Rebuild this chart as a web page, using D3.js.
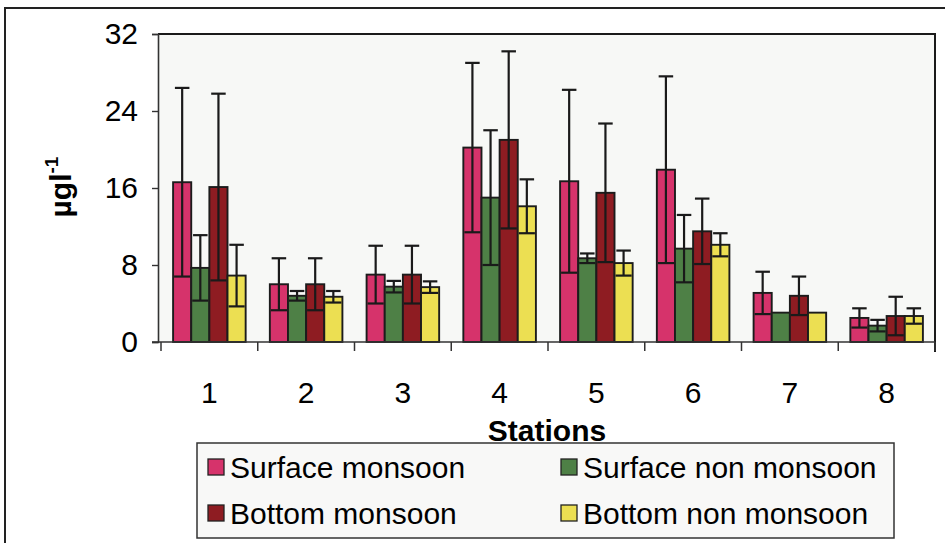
<!DOCTYPE html>
<html>
<head>
<meta charset="utf-8">
<script src="https://cdn.jsdelivr.net/npm/d3@7/dist/d3.min.js"></script>
<style>
  html, body { margin: 0; padding: 0; background: #ffffff; }
  svg { display: block; font-family: "Liberation Sans", Arial, Helvetica, sans-serif; }
</style>
</head>
<body>
<svg id="chart" width="945" height="543"></svg>
<script>
// Stations along the x axis
const stations = ["1", "2", "3", "4", "5", "6", "7", "8"];

// Series names (legend order, bar order within a station)
const seriesNames = ["Surface monsoon", "Surface non monsoon", "Bottom monsoon", "Bottom non monsoon"];

// Mean concentration (µg/l) per station
const surfaceMonsoon    = [16.6, 6.0, 7.0, 20.2, 16.7, 17.9, 5.1, 2.5];
const surfaceNonMonsoon = [7.7, 4.8, 5.75, 15.0, 8.7, 9.7, 3.05, 1.7];
const bottomMonsoon     = [16.1, 6.0, 7.0, 21.0, 15.5, 11.5, 4.8, 2.7];
const bottomNonMonsoon  = [6.9, 4.7, 5.7, 14.1, 8.2, 10.1, 3.05, 2.7];

// Standard deviation per station
const surfaceMonsoonSD    = [9.8, 2.7, 3.0, 8.8, 9.5, 9.7, 2.2, 1.0];
const surfaceNonMonsoonSD = [3.4, 0.5, 0.6, 7.0, 0.5, 3.5, 0, 0.6];
const bottomMonsoonSD     = [9.7, 2.7, 3.0, 9.2, 7.2, 3.4, 2.0, 2.0];
const bottomNonMonsoonSD  = [3.2, 0.6, 0.6, 2.8, 1.3, 1.2, 0, 0.8];

// Y axis ticks
const yTicks = [0, 8, 16, 24, 32];

const seriesValues = [surfaceMonsoon, surfaceNonMonsoon, bottomMonsoon, bottomNonMonsoon];
const seriesSD = [surfaceMonsoonSD, surfaceNonMonsoonSD, bottomMonsoonSD, bottomNonMonsoonSD];
const colors = ["#d6336b", "#4e8046", "#8e1c22", "#ecdf52"];

const svg = d3.select("#chart");

// Outer frame
svg.append("rect")
  .attr("x", 5).attr("y", 8).attr("width", 960).attr("height", 560)
  .attr("fill", "none").attr("stroke", "#222").attr("stroke-width", 2);

const plot = { left: 161, right: 935, top: 34, bottom: 342 };
const axisX = 158;

const x = d3.scaleBand().domain(stations)
  .range([plot.left, plot.right]).paddingInner(0.25).paddingOuter(0.125);
const xSub = d3.scaleBand().domain(seriesNames).range([0, x.bandwidth()]);
const y = d3.scaleLinear().domain([0, 32]).range([plot.bottom, plot.top]);

// Plot background
svg.append("rect")
  .attr("x", axisX).attr("y", plot.top)
  .attr("width", plot.right - axisX).attr("height", plot.bottom - plot.top)
  .attr("fill", "#f7f8f6");

// Bars
const groups = svg.append("g").selectAll("g")
  .data(stations).join("g")
  .attr("transform", d => `translate(${x(d)},0)`);

const rows = stations.map((s, i) => seriesNames.map((n, k) => ({
  station: s, series: n, k: k, value: seriesValues[k][i], sd: seriesSD[k][i]
})));

groups.selectAll("rect")
  .data((d, i) => rows[i]).join("rect")
  .attr("x", d => xSub(d.series))
  .attr("y", d => y(d.value))
  .attr("width", xSub.bandwidth())
  .attr("height", d => y(0) - y(d.value))
  .attr("fill", d => colors[d.k])
  .attr("stroke", "#1c1c1c").attr("stroke-width", 1.9);

// Error bars
const err = groups.selectAll("g.err")
  .data((d, i) => rows[i].filter(r => r.sd > 0)).join("g")
  .attr("class", "err")
  .attr("stroke", "#1a1a1a").attr("stroke-width", 2.2).attr("fill", "none");

const capW = xSub.bandwidth() * 0.8;
err.append("line")
  .attr("x1", d => xSub(d.series) + xSub.bandwidth() / 2)
  .attr("x2", d => xSub(d.series) + xSub.bandwidth() / 2)
  .attr("y1", d => y(d.value - d.sd))
  .attr("y2", d => y(d.value + d.sd));
err.append("line")
  .attr("x1", d => xSub(d.series) + (xSub.bandwidth() - capW) / 2)
  .attr("x2", d => xSub(d.series) + (xSub.bandwidth() + capW) / 2)
  .attr("y1", d => y(d.value + d.sd))
  .attr("y2", d => y(d.value + d.sd));
err.append("line")
  .attr("x1", d => xSub(d.series) + 1)
  .attr("x2", d => xSub(d.series) + xSub.bandwidth() - 1)
  .attr("y1", d => y(d.value - d.sd))
  .attr("y2", d => y(d.value - d.sd));

// Plot frame: top and right edges
svg.append("path")
  .attr("d", `M${axisX},${plot.top}H${plot.right}V${plot.bottom + 10}`)
  .attr("fill", "none").attr("stroke", "#1a1a1a").attr("stroke-width", 2);

// Y axis
const yAxis = svg.append("g")
  .attr("transform", `translate(${axisX},0)`)
  .call(d3.axisLeft(y).tickValues(yTicks).tickSize(6).tickPadding(14));
yAxis.select(".domain").attr("stroke", "#333").attr("stroke-width", 1.6);
yAxis.selectAll(".tick line").attr("stroke", "#333").attr("stroke-width", 1.4);
yAxis.selectAll(".tick text")
  .attr("font-size", 30).attr("fill", "#000")
  .attr("font-family", "Liberation Sans, Arial, sans-serif");

// X axis: ticks on group boundaries, labels at group centres
const xAxisG = svg.append("g");
xAxisG.append("line")
  .attr("x1", axisX - 6).attr("x2", plot.right)
  .attr("y1", plot.bottom).attr("y2", plot.bottom)
  .attr("stroke", "#333").attr("stroke-width", 1.6);
const step = x.step();
const bounds = stations.map(s => x(s) - x.paddingOuter() * step).concat([plot.right]);
xAxisG.selectAll("line.tk").data(bounds).join("line")
  .attr("class", "tk")
  .attr("x1", d => d).attr("x2", d => d)
  .attr("y1", plot.bottom).attr("y2", plot.bottom + 9)
  .attr("stroke", "#333").attr("stroke-width", 1.5);
xAxisG.selectAll("text").data(stations).join("text")
  .attr("x", d => x(d) + x.bandwidth() / 2)
  .attr("y", 403)
  .attr("text-anchor", "middle")
  .attr("font-size", 30)
  .text(d => d);

// Axis titles
svg.append("text")
  .attr("x", 547).attr("y", 441)
  .attr("text-anchor", "middle")
  .attr("font-size", 30).attr("font-weight", "bold")
  .text("Stations");

const yl = svg.append("text")
  .attr("transform", "translate(71,187) rotate(-90)")
  .attr("text-anchor", "middle")
  .attr("font-size", 30).attr("font-weight", "bold");
yl.append("tspan").text("µgl");
yl.append("tspan").attr("dy", -13).attr("font-size", 19).text("-1");

// Legend
const legend = svg.append("g");
legend.append("rect")
  .attr("x", 197).attr("y", 443).attr("width", 697).attr("height", 95)
  .attr("fill", "#f8f8f7").attr("stroke", "#333").attr("stroke-width", 1.5);
const legendPos = [[208, 459], [561, 459], [208, 505], [561, 505]];
const li = legend.selectAll("g.item").data(seriesNames).join("g")
  .attr("class", "item")
  .attr("transform", (d, i) => `translate(${legendPos[i][0]},${legendPos[i][1]})`);
li.append("rect")
  .attr("width", 16).attr("height", 16)
  .attr("fill", (d, i) => colors[i])
  .attr("stroke", "#222").attr("stroke-width", 1.3);
li.append("text")
  .attr("x", 22).attr("y", 19)
  .attr("font-size", 30)
  .text(d => d);
</script>
</body>
</html>
